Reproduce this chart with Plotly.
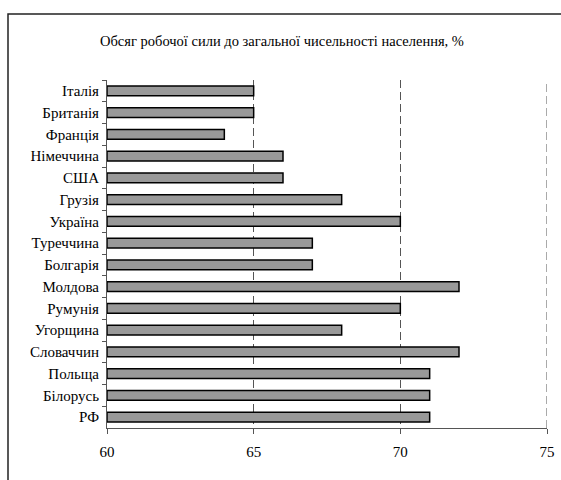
import plotly.graph_objects as go

countries = ["Італія", "Британія", "Франція", "Німеччина", "США", "Грузія", "Україна",
             "Туреччина", "Болгарія", "Молдова", "Румунія", "Угорщина", "Словаччин",
             "Польща", "Білорусь", "РФ"]
values = [65, 65, 64, 66, 66, 68, 70, 67, 67, 72, 70, 68, 72, 71, 71, 71]
x_ticks = [60, 65, 70, 75]
title_text = "Обсяг робочої сили до загальної чисельності населення, %"

FONT = "'Liberation Serif', 'Times New Roman', serif"
GRID_DASH = "8px,4px"
GRID_COLOR = "#555"

fig = go.Figure(go.Bar(
    y=countries, x=[v - 60 for v in values], base=60, orientation="h",
    marker=dict(color="#999999", line=dict(color="#000000", width=1.5)),
    width=0.45,
))

W, H = 561, 480
L, R, T, B = 107, 14, 80, 52
pw, ph = W - L - R, H - T - B

fig.update_layout(
    width=W, height=H,
    margin=dict(l=L, r=R, t=T, b=B, autoexpand=False),
    paper_bgcolor="white", plot_bgcolor="white",
    showlegend=False,
    font=dict(family=FONT, size=15, color="#000000"),
    annotations=[dict(text=title_text, x=(282 - L) / pw, y=(H - B - 41) / ph,
                      xref="paper", yref="paper",
                      showarrow=False, xanchor="center", yanchor="middle",
                      font=dict(family=FONT, size=14.5, color="#000"))],
    xaxis=dict(range=[x_ticks[0], x_ticks[-1]], tickvals=x_ticks, ticks="outside", ticklen=5,
               tickcolor="#555", showline=True, linecolor="#555", linewidth=1,
               showgrid=True, gridcolor=GRID_COLOR, griddash=GRID_DASH, gridwidth=1,
               zeroline=False, automargin=False, ticklabelstandoff=5,
               tickfont=dict(family=FONT, size=15, color="#000")),
    yaxis=dict(type="category", categoryorder="array", categoryarray=countries,
               autorange="reversed", showline=True, linecolor="#555", linewidth=1,
               ticks="outside", tickson="boundaries", ticklen=4, tickcolor="#555",
               showgrid=False, automargin=False, ticklabelstandoff=4,
               tickfont=dict(family=FONT, size=15, color="#000")),
)
# gridline at the right end of the axis (plotly drops grid lines on the plot edge)
fig.add_shape(type="line", xref="x", yref="paper", x0=x_ticks[-1], x1=x_ticks[-1], y0=0, y1=1,
              line=dict(color=GRID_COLOR, width=1, dash=GRID_DASH), layer="below")
# frame around the chart
fig.add_shape(type="rect", xref="paper", yref="paper",
              x0=(8 - L) / pw, x1=(575 - L) / pw,
              y0=(H - B - 495) / ph, y1=(H - B - 14) / ph,
              line=dict(color="#222", width=1.5), layer="below")
fig.write_html("out.html", config={"displayModeBar": False},
               post_script="document.body.style.margin='0';document.body.style.overflow='hidden';")
